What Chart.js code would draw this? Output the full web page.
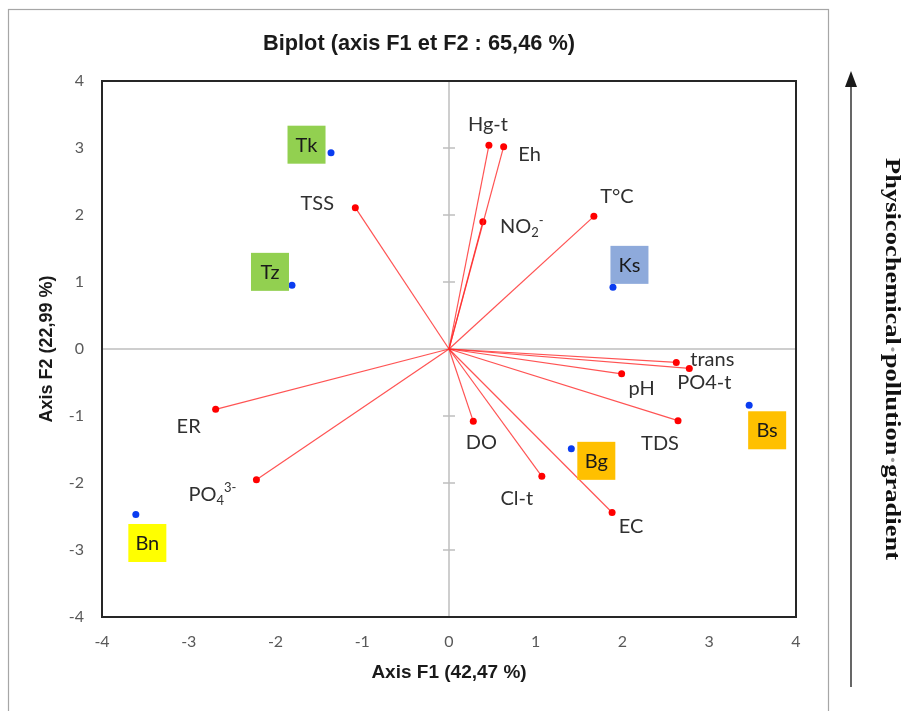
<!DOCTYPE html>
<html><head><meta charset="utf-8">
<script src="https://cdn.jsdelivr.net/npm/chart.js@4"></script>
<style>html,body{margin:0;padding:0;background:#fff;}#wrap{position:relative;width:904px;height:711px;}</style>
</head><body><div id="wrap"><canvas id="c" width="904" height="711"></canvas></div>
<script>
// ---- data ----
const varNames = ['Hg-t','Eh','NO_{2}^{-}','T°C','TSS','trans','PO4-t','pH','TDS','DO','Cl-t','EC','ER','PO_{4}^{3-}'];
const varF1 = [0.46, 0.63, 0.39, 1.67, -1.08, 2.62, 2.77, 1.99, 2.64, 0.28, 1.07, 1.88, -2.69, -2.22];
const varF2 = [3.04, 3.02, 1.90, 1.98, 2.11, -0.20, -0.29, -0.37, -1.07, -1.08, -1.90, -2.44, -0.90, -1.95];
const siteNames = ['Tk','Tz','Ks','Bs','Bg','Bn'];
const siteF1 = [-1.36, -1.81, 1.89, 3.46, 1.41, -3.61];
const siteF2 = [2.93, 0.95, 0.92, -0.84, -1.49, -2.47];
const tickValues = [-4,-3,-2,-1,0,1,2,3,4];
const chartTitle = 'Biplot (axis F1 et F2 : 65,46 %)';
const xTitle = 'Axis F1 (42,47 %)';
const yTitle = 'Axis F2 (22,99 %)';
const sideWords = ['Physicochemical','pollution','gradient'];

// ---- styling (label offsets in px relative to the point) ----
const varLabelOffset = [[-1,-22],[26,7],[39,4],[23,-21],[-38,-5],[36,-4],[15,13],[20,14],[-18,22],[8,20],[-25,21],[19,13],[-27,16],[-44,14]];
const siteBoxOffset = [[-24.5,-8],[-22,-13.5],[16.5,-22.5],[18,25],[25,12],[11.5,28.5]];
const siteBoxColor = ['#92d050','#92d050','#8eaadb','#ffc000','#ffc000','#ffff00'];
const LABEL_FONT = 'Lato';
const LABEL_SIZE = 20;

const datasets = varNames.map((n,i)=>({
  label: n,
  data: [{x:0,y:0},{x:varF1[i],y:varF2[i]}],
  showLine: true,
  borderColor: 'rgba(255,40,40,0.8)',
  borderWidth: 1.2,
  pointRadius: [0,3.5],
  pointBackgroundColor: '#ff0000',
  pointBorderColor: '#ff0000',
  pointBorderWidth: 0
}));
datasets.push({
  label: 'sites',
  data: siteF1.map((v,i)=>({x:v,y:siteF2[i]})),
  showLine: false,
  pointRadius: 3.5,
  pointBackgroundColor: '#0a3cf0',
  pointBorderColor: '#0a3cf0',
  pointBorderWidth: 0
});

function parseRich(s){
  const out=[]; const re=/(_\{[^}]*\}|\^\{[^}]*\})/;
  s.split(re).forEach(p=>{
    if(!p) return;
    if(p.startsWith('_{')) out.push({t:p.slice(2,-1),m:'sub'});
    else if(p.startsWith('^{')) out.push({t:p.slice(2,-1),m:'sup'});
    else out.push({t:p,m:''});
  });
  return out;
}
function drawRich(ctx, s, cx, capCy, size, color){
  const parts=parseRich(s);
  const big=`${size}px ${LABEL_FONT}`, small=`${Math.round(size*0.66)}px ${LABEL_FONT}`;
  let total=0;
  parts.forEach(p=>{ctx.font=p.m?small:big; p.w=ctx.measureText(p.t).width; total+=p.w;});
  let x=cx-total/2; const base=capCy+size*0.36;
  ctx.fillStyle=color; ctx.textAlign='left'; ctx.textBaseline='alphabetic';
  parts.forEach(p=>{
    ctx.font=p.m?small:big;
    const y = p.m==='sub'? base+size*0.2 : p.m==='sup'? base-size*0.42 : base;
    ctx.fillText(p.t,x,y); x+=p.w;
  });
}
function fitText(ctx, text, cx, capCy, font, capRatio, targetW, color){
  ctx.save();
  ctx.font=font; const w=ctx.measureText(text).width;
  const sx=targetW? targetW/w : 1;
  ctx.translate(cx,capCy); ctx.scale(sx,1);
  ctx.fillStyle=color; ctx.textAlign='center'; ctx.textBaseline='alphabetic';
  const size=parseFloat(font.match(/(\d+(\.\d+)?)px/)[1]);
  ctx.fillText(text,0,size*capRatio);
  ctx.restore();
}

const decor = {
  id:'decor',
  beforeDraw(chart){
    const ctx=chart.ctx;
    ctx.save();
    ctx.fillStyle='#fff'; ctx.fillRect(0,0,chart.width,chart.height);
    ctx.strokeStyle='#a6a6a6'; ctx.lineWidth=1.2;
    ctx.strokeRect(8.5,9.5,820,720);
    ctx.restore();
  },
  beforeDatasetsDraw(chart){
    const ctx=chart.ctx, a=chart.chartArea, sx=chart.scales.x, sy=chart.scales.y;
    const x0=sx.getPixelForValue(0), y0=sy.getPixelForValue(0);
    ctx.save();
    ctx.strokeStyle='#bfbfbf'; ctx.lineWidth=1.5;
    ctx.beginPath();
    ctx.moveTo(x0,a.top); ctx.lineTo(x0,a.bottom);
    ctx.moveTo(a.left,y0); ctx.lineTo(a.right,y0);
    tickValues.forEach(v=>{ const py=sy.getPixelForValue(v); ctx.moveTo(x0-6,py); ctx.lineTo(x0+6,py); });
    ctx.stroke();
    ctx.strokeStyle='#262626'; ctx.lineWidth=2;
    ctx.strokeRect(a.left,a.top,a.right-a.left,a.bottom-a.top);
    ctx.restore();
  },
  afterDatasetsDraw(chart){
    const ctx=chart.ctx, sx=chart.scales.x, sy=chart.scales.y;
    ctx.save();
    varNames.forEach((n,i)=>{
      const px=sx.getPixelForValue(varF1[i]), py=sy.getPixelForValue(varF2[i]);
      drawRich(ctx,n,px+varLabelOffset[i][0],py+varLabelOffset[i][1],LABEL_SIZE,'#303030');
    });
    siteNames.forEach((n,i)=>{
      const px=sx.getPixelForValue(siteF1[i]), py=sy.getPixelForValue(siteF2[i]);
      const cx=px+siteBoxOffset[i][0], cy=py+siteBoxOffset[i][1];
      ctx.fillStyle=siteBoxColor[i]; ctx.fillRect(cx-19,cy-19,38,38);
      drawRich(ctx,n,cx,cy,LABEL_SIZE,'#1a1a1a');
    });
    ctx.restore();
  },
  afterDraw(chart){
    const ctx=chart.ctx;
    // title
    fitText(ctx, chartTitle, 419, 42, 'bold 22px "Liberation Sans"', 0.36, 312, '#1a1a1a');
    // side arrow
    ctx.save();
    ctx.strokeStyle='#404040'; ctx.fillStyle='#1a1a1a'; ctx.lineWidth=1.6;
    ctx.beginPath(); ctx.moveTo(851,687); ctx.lineTo(851,84); ctx.stroke();
    ctx.beginPath(); ctx.moveTo(851,71); ctx.lineTo(845,87); ctx.lineTo(857,87); ctx.closePath(); ctx.fill();
    ctx.restore();
    // side text (rotated clockwise)
    ctx.save();
    const size=22, font=`bold ${size}px "Liberation Serif"`;
    ctx.translate(893, 359); ctx.rotate(Math.PI/2);
    ctx.font=font;
    const dot='·';
    const ws=sideWords.map(w=>ctx.measureText(w).width); const dw=ctx.measureText(dot).width;
    const total=ws.reduce((a,b)=>a+b,0)+dw*(sideWords.length-1);
    const k=402/total;
    ctx.scale(k,1);
    let x=-total/2; ctx.textAlign='left'; ctx.textBaseline='alphabetic';
    sideWords.forEach((w,i)=>{
      ctx.fillStyle='#111'; ctx.fillText(w,x,size*0.33); x+=ws[i];
      if(i<sideWords.length-1){ ctx.fillStyle='#9a9a9a'; ctx.fillText(dot,x,size*0.33); x+=dw; }
    });
    ctx.restore();
  }
};

new Chart(document.getElementById('c').getContext('2d'), {
  type:'scatter',
  data:{datasets},
  options:{
    responsive:false, animation:false,
    layout:{padding:{left:0,right:108,top:81,bottom:0}},
    plugins:{legend:{display:false}, tooltip:{enabled:false}, title:{display:false}},
    scales:{
      x:{type:'linear', min:-4, max:4,
        afterBuildTicks(s){ s.ticks=tickValues.map(v=>({value:v})); },
        afterFit(s){ s.height=94; },
        grid:{display:false, drawTicks:false}, border:{display:false},
        ticks:{padding:15, color:'#595959', font:{family:'Lato', size:16}, callback:v=>String(v)},
        title:{display:true, text:xTitle, color:'#1a1a1a', font:{family:'Liberation Sans', weight:'bold', size:19}, padding:{top:0,bottom:27}}
      },
      y:{type:'linear', min:-4, max:4,
        afterBuildTicks(s){ s.ticks=tickValues.map(v=>({value:v})); },
        afterFit(s){ s.width=102; },
        grid:{display:false, drawTicks:false}, border:{display:false},
        ticks:{padding:18, color:'#595959', font:{family:'Lato', size:16}, callback:v=>String(v)},
        title:{display:true, text:yTitle, color:'#1a1a1a', font:{family:'Liberation Sans', weight:'bold', size:18}, padding:{top:36,bottom:0}}
      }
    }
  },
  plugins:[decor]
});
</script></body></html>
